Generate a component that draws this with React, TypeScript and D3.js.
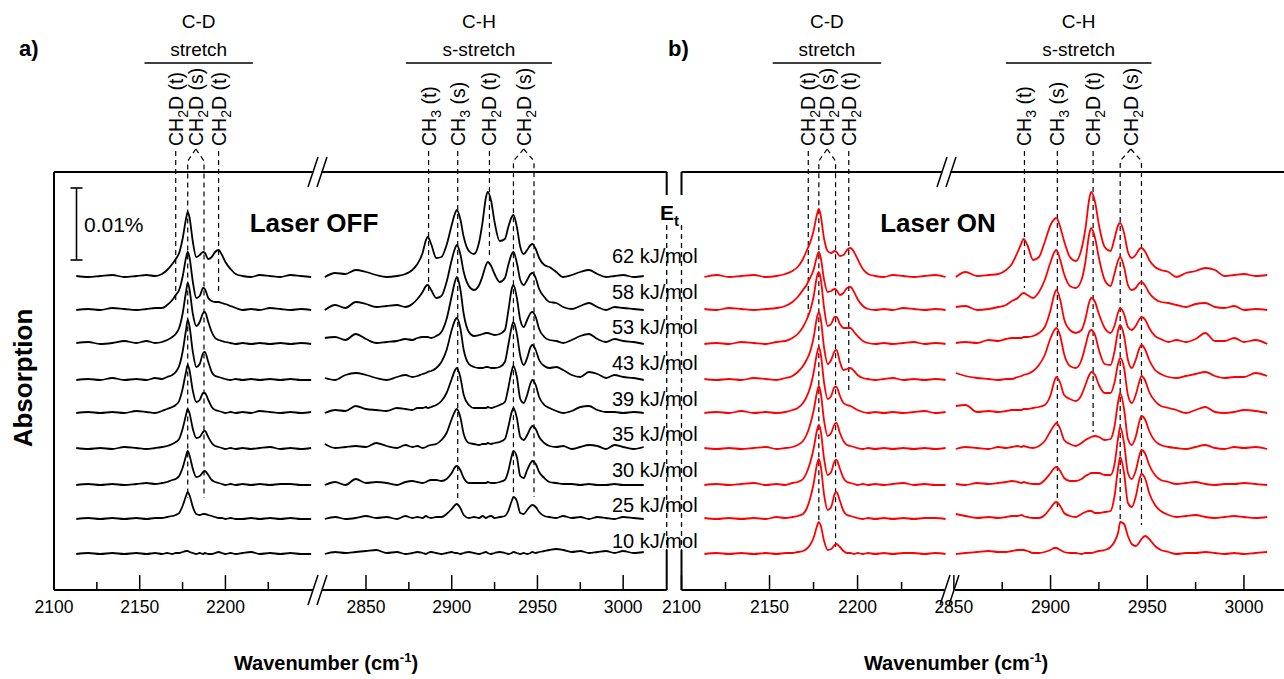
import React from 'react';
import * as d3 from 'd3';

const WIDTH = 1284;
const HEIGHT = 679;
const FONT = 'Arial, "Liberation Sans", Helvetica, sans-serif';

// collision energies (kJ/mol), top trace first
const energies = [62, 58, 53, 43, 39, 35, 30, 25, 10];
// vertical offset of every trace, in the traces' own units (0.01 % = SCALE_BAR)
const offsets = [277, 244, 210, 174, 141, 105, 69, 35, 0];
const SCALE_BAR = 72;

// wavenumber samples (cm-1)
const gridCD = [2113, 2120, 2127, 2134, 2141, 2148, 2154, 2159, 2163, 2166, 2169, 2171, 2173, 2175, 2177, 2178, 2179, 2181, 2183, 2185, 2187, 2188, 2190, 2192, 2194, 2196, 2198, 2200, 2203, 2206, 2210, 2215, 2220, 2226, 2232, 2238, 2244, 2250];
const gridCHtail = [2856, 2862, 2868, 2873, 2877, 2880, 2883, 2885, 2886, 2888, 2891, 2894, 2897, 2900, 2902, 2903, 2905, 2907, 2910, 2913, 2916, 2918, 2920, 2921, 2923, 2925, 2928, 2931, 2933, 2935, 2936, 2938, 2940, 2942, 2944, 2946, 2947, 2949, 2951, 2954, 2957, 2961, 2965, 2970, 2975, 2980, 2985, 2990, 2995, 3000, 3006, 3012];
const gridCHoff = [2826, 2832, 2838, 2844, 2850, ...gridCHtail];
const gridCHon = [2851, ...gridCHtail];

// laser OFF, C-D region
const offCD = [
  [1, 0, 1, 2, 0, 1, 2, 1, 3, 7, 13, 18, 24, 38, 58, 65, 60, 35, 20, 22, 25, 24, 18, 20, 25, 27, 22, 15, 8, 3, 1, 0, 2, 1, 0, 2, 1, 0],
  [0, 1, 0, 2, 1, 0, 1, 2, 2, 5, 10, 15, 20, 33, 52, 58, 53, 28, 12, 14, 22, 21, 12, 9, 8, 8, 7, 6, 4, 2, 0, 1, 0, 2, 1, 0, 1, 0],
  [1, 2, 0, 1, 3, 1, 3, 1, 2, 4, 7, 10, 16, 30, 52, 61, 55, 30, 18, 22, 31, 32, 22, 12, 6, 4, 3, 2, 1, 0, 1, 0, 1, 0, 1, 0, 1, 0],
  [0, 1, 0, 2, 0, 1, 0, 2, 1, 3, 5, 8, 14, 28, 50, 60, 54, 28, 13, 16, 27, 28, 18, 8, 4, 3, 2, 1, 0, 1, 0, 1, 0, 1, 0, 1, 0, 0],
  [0, 1, 0, 1, 0, 2, 1, 0, 2, 4, 6, 8, 12, 24, 41, 48, 43, 22, 11, 13, 20, 20, 13, 6, 3, 2, 1, 0, 1, 0, 1, 0, 2, 1, 0, 1, 0, 1],
  [1, 0, 1, 0, 2, 1, 0, 1, 2, 3, 5, 7, 10, 20, 34, 40, 36, 20, 11, 12, 17, 18, 12, 6, 3, 2, 1, 0, 1, 0, 1, 0, 1, 2, 0, 1, 0, 1],
  [0, 1, 0, 1, 0, 1, 2, 1, 2, 3, 5, 6, 9, 17, 29, 34, 30, 16, 8, 9, 13, 14, 10, 5, 3, 2, 1, 0, 1, 0, 1, 0, 1, 0, 1, 1, 0, 0],
  [0, 1, 0, 1, 0, 1, 0, 1, 1, 2, 3, 4, 6, 13, 23, 27, 24, 12, 5, 4, 5, 5, 4, 3, 2, 1, 1, 0, 1, 0, 0, 1, 0, 1, 0, 1, 0, 0],
  [0, 1, 0, 1, 0, 1, 0, 1, 0, 1, 0, 1, 1, 2, 3, 3, 2, 1, 0, 1, 0, 1, 0, 0, 1, 2, 1, 0, 1, 0, 1, 2, 0, 1, 0, 1, 0, 0],
];

// laser OFF, C-H region
const offCH = [
  [0, 4, 3, 7, 5, 2, 0, 1, 3, 7, 13, 24, 37, 40, 33, 19, 20, 32, 52, 64, 67, 58, 40, 26, 23, 35, 55, 80, 85, 76, 55, 36, 38, 50, 60, 62, 50, 30, 23, 27, 32, 33, 28, 19, 12, 10, 5, 0, 2, 5, 7, 3, 0, 1, 2, 0, 1],
  [0, 5, 2, 8, 6, 3, 4, 5, 3, 6, 11, 18, 24, 25, 20, 12, 14, 28, 50, 62, 65, 56, 38, 24, 20, 25, 34, 45, 48, 44, 36, 28, 32, 45, 56, 58, 47, 30, 25, 30, 36, 37, 32, 21, 13, 8, 7, 3, 1, 4, 7, 3, 0, 3, 2, 1, 0],
  [6, 7, 4, 10, 5, 1, 2, 3, 5, 4, 6, 7, 7, 7, 6, 8, 12, 25, 48, 63, 67, 55, 30, 12, 8, 9, 10, 11, 11, 10, 9, 10, 14, 33, 55, 59, 46, 24, 17, 24, 31, 32, 27, 15, 7, 4, 3, 1, 4, 8, 10, 5, 2, 5, 3, 2, 0],
  [2, 0, 5, 7, 5, 2, 0, 3, 5, 3, 4, 6, 7, 8, 9, 12, 18, 30, 50, 60, 62, 52, 30, 16, 13, 12, 12, 13, 13, 12, 12, 13, 18, 35, 53, 58, 46, 24, 15, 22, 33, 35, 30, 20, 14, 12, 13, 10, 5, 3, 8, 6, 2, 5, 3, 2, 0],
  [0, 3, 2, 7, 4, 3, 2, 5, 4, 3, 5, 5, 6, 5, 6, 8, 12, 20, 34, 43, 45, 36, 18, 8, 5, 5, 5, 5, 6, 5, 6, 8, 11, 25, 42, 47, 36, 14, 10, 18, 30, 33, 28, 16, 8, 5, 2, 0, 2, 6, 7, 3, 1, 1, 0, 1, 0],
  [5, 1, 2, 3, 2, 6, 3, 1, 4, 2, 3, 1, 2, 3, 4, 5, 9, 16, 30, 38, 40, 32, 15, 6, 5, 4, 5, 5, 6, 5, 6, 7, 10, 22, 37, 41, 31, 12, 9, 14, 21, 23, 20, 12, 6, 3, 2, 3, 0, 2, 4, 3, 0, 4, 2, 0, 2],
  [0, 3, 0, 6, 2, 3, 2, 0, 3, 4, 3, 2, 3, 4, 5, 5, 4, 6, 12, 18, 19, 15, 7, 2, 2, 2, 2, 2, 3, 2, 2, 3, 5, 14, 29, 34, 28, 9, 7, 15, 22, 24, 21, 13, 7, 3, 2, 1, 1, 0, 1, 0, 0, 1, 0, 0, 0],
  [0, 2, 0, 1, 3, 1, 2, 0, 3, 1, 2, 1, 3, 2, 1, 2, 2, 5, 10, 14, 15, 11, 4, 1, 2, 1, 3, 1, 2, 3, 1, 2, 3, 8, 18, 22, 18, 6, 5, 9, 13, 14, 12, 7, 3, 2, 1, 3, 1, 2, 0, 2, 1, 0, 2, 1, 0],
  [0, 2, 1, 2, 3, 4, 1, 2, 0, 1, 2, 1, 0, 1, 2, 1, 0, 1, 2, 1, 1, 0, 1, 2, 1, 0, 1, 2, 1, 0, 1, 2, 1, 0, 1, 2, 1, 0, 1, 0, 1, 2, 1, 2, 3, 4, 5, 4, 2, 3, 1, 2, 3, 1, 3, 1, 2],
];

// laser ON, C-D region
const onCD = [
  [0, 2, 0, 1, 2, 0, 1, 3, 6, 10, 18, 26, 34, 46, 63, 68, 62, 38, 26, 24, 26, 25, 21, 22, 27, 29, 25, 18, 8, 3, 1, 0, 2, 1, 0, 1, 2, 0],
  [1, 0, 2, 1, 0, 1, 2, 4, 8, 13, 20, 25, 32, 40, 54, 58, 53, 30, 18, 19, 21, 20, 15, 17, 22, 23, 18, 11, 4, 1, 0, 1, 0, 2, 1, 0, 1, 0],
  [0, 1, 0, 2, 1, 0, 2, 3, 6, 10, 17, 24, 33, 47, 68, 72, 66, 36, 18, 20, 27, 27, 20, 16, 16, 16, 12, 8, 3, 1, 0, 1, 0, 1, 2, 0, 1, 0],
  [1, 0, 1, 0, 2, 1, 0, 2, 4, 8, 14, 20, 28, 42, 63, 68, 62, 32, 16, 20, 29, 30, 18, 10, 11, 12, 9, 5, 2, 1, 0, 1, 2, 0, 1, 0, 1, 0],
  [0, 1, 0, 2, 0, 1, 0, 1, 3, 5, 10, 16, 25, 40, 60, 66, 60, 30, 14, 17, 26, 26, 17, 10, 8, 7, 5, 3, 1, 0, 1, 0, 1, 0, 1, 2, 0, 1],
  [1, 0, 1, 0, 1, 2, 0, 1, 2, 4, 8, 14, 24, 38, 57, 63, 57, 28, 13, 16, 25, 26, 16, 8, 4, 3, 2, 1, 0, 1, 0, 1, 0, 1, 0, 1, 0, 1],
  [0, 1, 0, 1, 2, 0, 1, 0, 2, 3, 6, 12, 22, 36, 55, 60, 55, 26, 10, 13, 24, 25, 16, 7, 3, 2, 1, 0, 1, 0, 1, 0, 1, 2, 0, 1, 0, 0],
  [1, 0, 1, 0, 1, 0, 2, 1, 2, 3, 5, 10, 20, 35, 55, 60, 54, 24, 9, 12, 25, 27, 18, 8, 4, 3, 2, 1, 0, 1, 0, 1, 0, 1, 0, 1, 1, 0],
  [0, 1, 0, 1, 0, 1, 0, 1, 1, 2, 3, 5, 9, 16, 28, 32, 29, 13, 4, 5, 9, 10, 7, 3, 1, 1, 0, 1, 0, 1, 0, 1, 0, 1, 1, 0, 1, 0],
];

// laser ON, C-H region
const onCH = [
  [0, 5, 1, 2, 3, 7, 13, 25, 34, 38, 32, 17, 20, 35, 52, 58, 59, 50, 36, 20, 16, 28, 48, 78, 85, 75, 52, 30, 26, 38, 52, 54, 44, 25, 19, 22, 28, 29, 25, 17, 10, 7, 5, 0, 4, 6, 9, 7, 1, 2, 3, 1, 2],
  [3, 4, 0, 1, 3, 5, 9, 12, 16, 17, 15, 12, 18, 30, 48, 58, 60, 50, 36, 24, 22, 30, 48, 76, 82, 72, 52, 30, 24, 36, 50, 53, 43, 25, 20, 22, 27, 28, 24, 17, 11, 8, 7, 5, 3, 6, 7, 3, 2, 4, 0, 1, 0],
  [1, 2, 1, 4, 3, 5, 6, 6, 6, 7, 7, 8, 11, 17, 34, 50, 54, 44, 25, 14, 11, 14, 25, 42, 46, 42, 30, 16, 11, 18, 32, 36, 30, 17, 14, 18, 25, 27, 24, 16, 8, 5, 2, 4, 2, 5, 11, 3, 3, 6, 2, 4, 0],
  [7, 4, 2, 1, 0, 1, 1, 3, 4, 5, 6, 9, 15, 25, 42, 50, 52, 44, 26, 14, 12, 20, 34, 48, 50, 45, 30, 16, 15, 28, 50, 55, 44, 20, 12, 20, 32, 35, 30, 20, 10, 6, 3, 2, 4, 6, 8, 4, 2, 3, 3, 7, 4],
  [7, 8, 1, 2, 1, 2, 3, 3, 3, 4, 4, 5, 6, 8, 18, 32, 36, 30, 18, 14, 12, 18, 28, 38, 41, 38, 28, 20, 20, 30, 50, 55, 45, 18, 10, 18, 32, 37, 32, 21, 12, 7, 5, 3, 0, 3, 6, 1, 0, 1, 3, 2, 0],
  [0, 2, 1, 0, 2, 1, 2, 3, 2, 3, 2, 1, 3, 8, 18, 24, 26, 20, 9, 5, 3, 6, 9, 11, 12, 13, 12, 9, 10, 22, 48, 56, 40, 10, 4, 12, 28, 33, 29, 18, 8, 4, 2, 1, 0, 2, 4, 1, 0, 2, 1, 2, 0],
  [1, 0, 2, 1, 2, 3, 4, 3, 2, 3, 2, 1, 1, 5, 12, 17, 18, 14, 7, 4, 4, 6, 9, 11, 12, 12, 12, 10, 10, 20, 48, 58, 42, 12, 6, 14, 30, 35, 31, 20, 10, 5, 3, 1, 2, 3, 1, 0, 1, 1, 2, 1, 0],
  [5, 3, 1, 2, 1, 2, 3, 3, 4, 3, 2, 1, 1, 4, 11, 16, 17, 13, 6, 3, 2, 5, 7, 8, 8, 6, 6, 7, 8, 22, 52, 62, 46, 16, 12, 22, 40, 45, 40, 26, 14, 8, 4, 2, 3, 4, 2, 1, 2, 3, 2, 1, 2],
  [0, 1, 2, 3, 2, 2, 3, 4, 4, 4, 3, 1, 1, 2, 4, 6, 6, 4, 2, 1, 1, 0, 1, 1, 1, 2, 3, 4, 7, 12, 22, 32, 30, 18, 10, 8, 12, 15, 18, 15, 8, 4, 2, 0, 1, 1, 2, 1, 0, 1, 0, 1, 2],
];

// band assignments: wavenumbers of the dashed markers and the level they reach down to
const marksOff = [
  { sub: '2', rest: 'D (t)', wn: [2171], end: [254] },
  { sub: '2', rest: 'D (s)', wn: [2178, 2187.5], end: [56, 56] },
  { sub: '2', rest: 'D (t)', wn: [2196], end: [259] },
  { sub: '3', rest: ' (t)', wn: [2886.5], end: [259] },
  { sub: '3', rest: ' (s)', wn: [2903.5], end: [56] },
  { sub: '2', rest: 'D (t)', wn: [2922], end: [297] },
  { sub: '2', rest: 'D (s)', wn: [2936, 2948], end: [61, 57] },
];
const marksOn = [
  { sub: '2', rest: 'D (t)', wn: [2172], end: [237] },
  { sub: '2', rest: 'D (s)', wn: [2178, 2187.5], end: [34, 7] },
  { sub: '2', rest: 'D (t)', wn: [2195], end: [161] },
  { sub: '3', rest: ' (t)', wn: [2886.5], end: [266] },
  { sub: '3', rest: ' (s)', wn: [2903.5], end: [47] },
  { sub: '2', rest: 'D (t)', wn: [2922], end: [122] },
  { sub: '2', rest: 'D (s)', wn: [2936, 2947], end: [34, 29] },
];

// region headings and the wavenumber span of their underline
const headsOff = [
  { top: 'C-D', bottom: 'stretch', span: [2152.8, 2216] },
  { top: 'C-H', bottom: 's-stretch', span: [2873.3, 2958.5] },
];
const headsOn = [
  { top: 'C-D', bottom: 'stretch', span: [2151.8, 2213.4] },
  { top: 'C-H', bottom: 's-stretch', span: [2876.9, 2952.2] },
];

const tickValues = [...d3.range(2100, 2226, 25), ...d3.range(2850, 3001, 25)];

const y = d3.scaleLinear().domain([-36, 382]).range([590, 172]);
const labelY = d3.scaleLinear().domain([0, energies.length - 1]).range([263, 548]);
const line = d3.line<[number, number]>().x(d => d[0]).y(d => d[1]).curve(d3.curveMonotoneX);

const panels = [
  {
    key: 'a', letter: 'a)', letterX: 19, color: '#000', title: 'Laser OFF', titleX: 314,
    xl: d3.scaleLinear().domain([2100, 2254]).range([54, 318]),
    xr: d3.scaleLinear().domain([2822, 3025.4]).range([318, 666.7]),
    gridR: gridCHoff, cd: offCD, ch: offCH, marks: marksOff, heads: headsOff, axisTitleX: 326,
  },
  {
    key: 'b', letter: 'b)', letterX: 668, color: '#ff0000', title: 'Laser ON', titleX: 938,
    xl: d3.scaleLinear().domain([2100, 2252.5]).range([681.5, 950]),
    xr: d3.scaleLinear().domain([2848, 3020.7]).range([950, 1284]),
    gridR: gridCHon, cd: onCD, ch: onCH, marks: marksOn, heads: headsOn, axisTitleX: 956,
  },
];

type P = typeof panels[number];
const xOf = (p: P, w: number) => (w < 2500 ? p.xl(w) : p.xr(w));

// two slanted strokes marking an axis break
const breakMarks = (cx: number, cy: number) =>
  `M${cx - 9.5},${cy + 15}L${cx + 0.5},${cy - 15}M${cx - 0.5},${cy + 15}L${cx + 9.5},${cy - 15}`;

function Panel({ p }: { p: P }) {
  return (
    <g>
      <text x={p.letterX} y={56} fontSize={22} fontWeight="bold">{p.letter}</text>
      {p.heads.map(h => {
        const x0 = xOf(p, h.span[0]);
        const x1 = xOf(p, h.span[1]);
        const cx = (x0 + x1) / 2;
        return (
          <g key={h.top}>
            <text x={cx} y={28} fontSize={19} textAnchor="middle">{h.top}</text>
            <text x={cx} y={56} fontSize={19} textAnchor="middle">{h.bottom}</text>
            <line x1={x0} x2={x1} y1={63} y2={63} stroke="#000" strokeWidth={1.6} />
          </g>
        );
      })}
      {p.marks.map((m, k) => {
        const xs = m.wn.map(w => xOf(p, w));
        const cx = d3.mean(xs) as number;
        const paths = xs.length === 1
          ? [`M${cx},151V${y(m.end[0])}`]
          : xs.map((x, i) => `M${cx},149L${x},161V${y(m.end[i])}`);
        return (
          <g key={k}>
            {paths.map((d, i) => (
              <path key={i} d={d} fill="none" stroke="#000" strokeWidth={1.2} strokeDasharray="5,4" />
            ))}
            <text transform={`translate(${cx + 7},146) rotate(-90)`} fontSize={19.5}>
              CH<tspan fontSize={14} dy={5}>{m.sub}</tspan><tspan dy={-5}>{m.rest}</tspan>
            </text>
          </g>
        );
      })}
      {energies.map((e, i) => (
        <g key={e} fill="none" stroke={p.color} strokeWidth={1.8} strokeLinejoin="round">
          <path d={line(gridCD.map((w, j) => [p.xl(w), y(offsets[i] + p.cd[i][j])])) as string} />
          <path d={line(p.gridR.map((w, j) => [p.xr(w), y(offsets[i] + p.ch[i][j])])) as string} />
        </g>
      ))}
      <text x={p.titleX} y={232} fontSize={26} fontWeight="bold" textAnchor="middle">{p.title}</text>
      {tickValues.map(t => {
        const x = xOf(p, t);
        const major = t % 50 === 0;
        return (
          <g key={t}>
            <line x1={x} x2={x} y1={590} y2={major ? 575 : 582} stroke="#000" strokeWidth={1.5} />
            {major && <text x={x} y={613} fontSize={17.5} textAnchor="middle">{t}</text>}
          </g>
        );
      })}
      <text x={p.axisTitleX} y={670} fontSize={20} fontWeight="bold" textAnchor="middle">
        Wavenumber (cm<tspan fontSize={13} dy={-8}>-1</tspan><tspan dy={8}>)</tspan>
      </text>
    </g>
  );
}

export default function App() {
  const a = panels[0];
  const b = panels[1];
  const barTop = 188;
  const barBottom = barTop + (y(0) - y(SCALE_BAR));
  return (
    <svg width={WIDTH} height={HEIGHT} fontFamily={FONT}
      style={{ position: 'absolute', left: 0, top: 0, background: '#fff' }}>
      <rect width={WIDTH} height={HEIGHT} fill="#fff" />
      {/* frames */}
      <g fill="none" stroke="#000" strokeWidth={2}>
        <path d={`M54,172H313M321.5,172H666.7M54,172V590M54,590H313M322,590H666.7`} />
        <path d={`M666.7,172V195M666.7,550V590M681.5,172V195M681.5,550V590`} />
        <path d={`M681.5,172H942M950.5,172H1284M681.5,590H944.5M955,590H1284`} />
        <path d={`M666.7,225V550M681.5,225V550`} strokeWidth={1.3} strokeDasharray="5,4" />
        <path d={breakMarks(317.5, 172) + breakMarks(317.5, 590) + breakMarks(946.5, 172) + breakMarks(949.5, 590)}
          strokeWidth={1.5} />
      </g>
      <Panel p={a} />
      <Panel p={b} />
      {/* scale bar */}
      <g stroke="#000" strokeWidth={1.6}>
        <line x1={76.5} x2={76.5} y1={barTop} y2={barBottom} />
        <line x1={70.5} x2={82.5} y1={barTop} y2={barTop} />
        <line x1={70.5} x2={82.5} y1={barBottom} y2={barBottom} />
      </g>
      <text x={84} y={232} fontSize={21}>0.01%</text>
      {/* energy labels */}
      <text x={660} y={220} fontSize={21} fontWeight="bold">
        E<tspan fontSize={15} dy={6}>t</tspan>
      </text>
      {energies.map((e, i) => (
        <text key={e} x={612} y={labelY(i)} fontSize={20}>{`${e} kJ/mol`}</text>
      ))}
      <text transform="translate(32,378) rotate(-90)" fontSize={26} fontWeight="bold" textAnchor="middle">
        Absorption
      </text>
    </svg>
  );
}
